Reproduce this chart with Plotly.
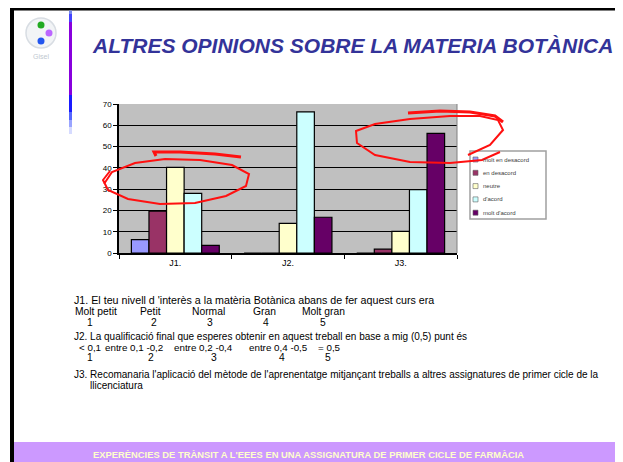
import plotly.graph_objects as go

# ---- data ----
categories = ["J1.", "J2.", "J3."]
series_names = ["molt en desacord", "en desacord", "neutre", "d'acord", "molt d'acord"]
series_colors = ["#9999FF", "#993366", "#FFFFCC", "#CCFFFF", "#660066"]
molt_en_desacord = [6.3, 0, 0]
en_desacord = [19.7, 0, 1.8]
neutre = [40.2, 13.9, 10.2]
d_acord = [28.0, 66.3, 29.8]
molt_d_acord = [3.6, 16.8, 56.2]
series_values = [molt_en_desacord, en_desacord, neutre, d_acord, molt_d_acord]

title_text = "ALTRES OPINIONS SOBRE LA MATERIA BOTÀNICA"
footer_text = "EXPERÈNCIES DE TRÀNSIT A L'EEES EN UNA ASSIGNATURA DE PRIMER CICLE DE FARMÀCIA"
j1_text = "J1. El teu nivell d 'interès a la matèria Botànica abans de fer aquest curs era"
j1_labels = ["Molt petit", "Petit", "Normal", "Gran", "Molt gran"]
j2_text = "J2. La qualificació final que esperes obtenir en aquest treball en base a mig (0,5) punt és"
j2_labels = ["< 0,1", "entre 0,1 -0,2", "entre 0,2 -0,4", "entre 0,4 -0,5", "= 0,5"]
scale_numbers = ["1", "2", "3", "4", "5"]
j3_text = "J3. Recomanaria l'aplicació del mètode de l'aprenentatge mitjançant treballs a altres assignatures de primer cicle de la"
j3_text2 = "llicenciatura"

# ---- page geometry (screen pixels; the page body adds an 8px margin) ----
OFF = 8
FW, FH = 623 - OFF, 462 - OFF
ML, MR, MT, MB = 119 - OFF, 623 - 457, 104 - OFF, 462 - 253
PW, PH = FW - ML - MR, FH - MT - MB


def px(x):
    return (x - OFF - ML) / PW


def py(y):
    return (FH - MB - (y - OFF)) / PH


def path(points):
    return "M " + " L ".join(f"{px(x):.4f},{py(y):.4f}" for x, y in points)


SANS = "Liberation Sans, Arial, sans-serif"
NARROW = "Liberation Sans Narrow, Arial Narrow, Liberation Sans, Arial, sans-serif"

fig = go.Figure()
for name, color, vals in zip(series_names, series_colors, series_values):
    fig.add_trace(go.Bar(
        x=categories, y=vals, name=name,
        marker=dict(color=color, line=dict(color="black", width=1.2)),
        showlegend=False,
    ))

shapes = []
annotations = []


def rect(x0, y0, x1, y1, **kw):
    shapes.append(dict(type="rect", xref="paper", yref="paper", x0=px(x0), x1=px(x1),
                       y0=py(y1), y1=py(y0), **kw))


# slide frame
for box in [(10, 8, 14, 462), (10, 8, 623, 10.5), (620, 8, 623, 441)]:
    rect(*box, fillcolor="black", line_width=0, layer="below")
# footer band
rect(14, 442, 623, 462, fillcolor="#CC99FF", line_width=0, layer="below")

# vertical accent line (gradient approximated by segments)
accent = [(10.5, 14, "#7788EE"), (14, 22, "#4444FF"), (22, 95, "#8800DD"),
          (95, 112, "#1A1AFF"), (112, 120, "#5566FF"), (120, 127, "#99A4FF"),
          (127, 134, "#D6DBFF")]
for y0, y1, c in accent:
    rect(69, y0, 72, y1, fillcolor=c, line_width=0)

# logo
shapes.append(dict(type="circle", xref="paper", yref="paper", x0=px(26), x1=px(56),
                   y0=py(48), y1=py(18), fillcolor="#F2F4F6", line=dict(color="#D8DDE3", width=1.5)))
for cx, cy, c in [(41, 25, "#22AA22"), (49, 33, "#BB66FF"), (41, 41, "#2255EE")]:
    shapes.append(dict(type="circle", xref="paper", yref="paper", x0=px(cx - 3.5), x1=px(cx + 3.5),
                       y0=py(cy + 3.5), y1=py(cy - 3.5), fillcolor=c, line_width=0))


def note(text, x, y, anchor="left", font=None):
    annotations.append(dict(x=px(x), y=py(y), xref="paper", yref="paper", text=text,
                            xanchor=anchor, yanchor="middle", showarrow=False, font=font))


note("Gisel", 41, 56, "center", dict(family=SANS, size=7, color="#C0C8D0"))

# plot area right border
shapes.append(dict(type="line", xref="paper", yref="paper", x0=1, x1=1, y0=0, y1=1,
                   line=dict(color="#808080", width=1)))

# manual legend
rect(470, 151, 546, 219, fillcolor="white", line=dict(color="#A0A0A0", width=1.5))
for i, (name, color) in enumerate(zip(series_names, series_colors)):
    yc = 159.5 + i * 13.3
    rect(473, yc - 2.5, 478, yc + 2.5, fillcolor=color, line=dict(color="#606060", width=0.6))
    note(name, 481, yc, "left", dict(family=SANS, size=6, color="#404040"))

# red hand-drawn marks
red = dict(color="#FF1010", width=2)
ell1 = [(104, 184), (112, 172), (135, 163), (165, 159), (200, 160), (232, 165), (249, 174),
        (246, 186), (226, 196), (195, 203), (160, 204), (128, 199), (108, 190), (103, 180), (110, 171)]
shapes.append(dict(type="path", xref="paper", yref="paper", path=path(ell1), line=red))
shapes.append(dict(type="path", xref="paper", yref="paper",
                   path=path([(156, 156), (154, 152), (180, 152), (215, 154), (241, 157)]),
                   line=dict(color="#FF1010", width=3)))
ell2 = [(468, 155), (490, 145), (503, 130), (498, 120), (480, 116), (450, 116), (410, 119),
        (375, 124), (356, 131), (357, 143), (375, 155), (410, 162), (450, 163), (482, 160), (500, 152)]
shapes.append(dict(type="path", xref="paper", yref="paper", path=path(ell2), line=red))
shapes.append(dict(type="path", xref="paper", yref="paper",
                   path=path([(408, 113), (440, 111), (470, 112), (495, 116), (503, 122)]),
                   line=dict(color="#FF1010", width=3)))

# title
note("<b><i>" + title_text + "</i></b>", 90, 45, "left", dict(family=SANS, size=21, color="#333399"))

# footer
note("<b>" + footer_text + "</b>", 308, 454, "center", dict(family=NARROW, size=9.4, color="#FFFFCC"))

# question texts
body = dict(family=NARROW, size=10.3, color="black")
small = dict(family=NARROW, size=9.8, color="black")
note(j1_text, 72, 300, font=dict(family=NARROW, size=10.7, color="black"))
for lab, x in zip(j1_labels, [73, 138, 190, 251, 300]):
    note(lab, x, 311, font=body)
for n, x in zip(scale_numbers, [90, 154, 210, 266, 323]):
    note(n, x, 322, "center", body)
note(j2_text, 72, 336, font=dict(family=NARROW, size=10, color="black"))
for lab, x in zip(j2_labels, [77, 103, 172, 247, 316]):
    note(lab, x, 347, font=small)
for n, x in zip(scale_numbers, [90, 151, 214, 282, 328]):
    note(n, x, 357, "center", body)
note(j3_text, 72, 374, font=dict(family=NARROW, size=10, color="black"))
note(j3_text2, 88, 385, font=dict(family=NARROW, size=10, color="black"))

fig.update_layout(
    width=FW, height=FH,
    margin=dict(l=ML, r=MR, t=MT, b=MB, pad=0),
    paper_bgcolor="white", plot_bgcolor="#C0C0C0",
    barmode="group", bargap=0.22, bargroupgap=0,
    shapes=shapes, annotations=annotations,
    font=dict(family=SANS, color="black"),
    xaxis=dict(showline=True, linecolor="black", linewidth=1.5, ticks="outside", ticklen=4,
               tickcolor="black", tickson="boundaries", showgrid=False,
               tickfont=dict(family=SANS, size=9, color="black")),
    yaxis=dict(range=[0, 70], dtick=10, showline=True, linecolor="black", linewidth=1.5,
               ticks="outside", ticklen=4, tickcolor="black", showgrid=True,
               gridcolor="black", gridwidth=1, zeroline=False,
               tickfont=dict(family=SANS, size=8, color="black")),
)

fig.write_html("out.html")
